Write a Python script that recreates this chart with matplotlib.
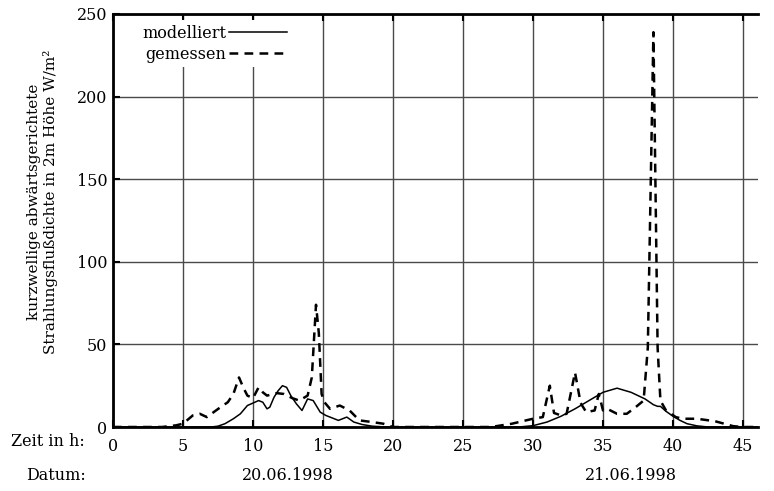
import matplotlib
matplotlib.use("Agg")
import matplotlib.pyplot as plt
import matplotlib.transforms as mtransforms

# modelled shortwave downward flux (solid)
t_mod = [0, 6, 7, 7.5, 8, 8.6, 9.1, 9.6, 10, 10.4, 10.7, 11.0, 11.2, 11.5, 11.8,
         12.1, 12.4, 12.7, 13.1, 13.5, 13.9, 14.3, 14.8, 15.2, 15.5, 16.1, 16.7,
         17.2, 17.8, 18.5, 19.5, 28, 29, 30, 31, 32, 33, 34, 35, 36, 37, 38,
         38.6, 38.9, 39.1, 39.5, 40, 40.5, 41, 41.7, 42.5, 47]
modelliert = [0, 0, 0, 0.5, 2, 5, 8, 13, 14.5, 16, 15, 11, 12, 18, 22,
              25, 24, 19, 14, 10, 17, 16, 9, 7, 6, 4, 6,
              3, 1.5, 0.5, 0, 0, 0, 0.8, 3, 6.5, 11, 16, 21, 23.5, 21, 17,
              13.5, 12.5, 12.5, 9.5, 6.5, 4, 2, 0.7, 0, 0]

# measured (dashed)
t_mes = [0, 3.5, 4.5, 5, 5.7, 6.2, 6.7, 7.6, 8.2, 8.6, 9.0, 9.3, 9.6, 10, 10.4,
         10.7, 11, 11.7, 12.2, 12.8, 13.3, 13.9, 14.2, 14.5, 14.7, 14.9, 15.1,
         15.5, 16.2, 16.9, 17.6, 18.5, 19.3, 20, 27, 28.5, 30, 30.7, 31.2, 31.5,
         32, 32.4, 33, 33.4, 33.8, 34.4, 34.7, 35, 35.3, 36, 36.7, 37.4, 37.9,
         38.2, 38.6, 38.9, 39.1, 39.5, 40.2, 40.7, 41.7, 43, 44.3, 45, 47]
gemessen = [0, 0, 1, 2, 7, 8, 6, 11.5, 15, 20, 30, 24, 19, 17.5, 24,
            21, 19, 20.5, 20, 17.5, 16, 19, 30, 74, 57, 20, 15,
            11, 13, 10, 4, 3, 2, 0, 0, 2, 5, 6, 25, 8.5,
            7, 8, 33, 14.5, 9, 10, 20, 10, 11, 8, 8, 12.5, 16,
            48, 239, 48, 16, 10, 6, 5, 5, 3.5, 0.5, 0, 0]

xticks = [0, 5, 10, 15, 20, 25, 30, 35, 40, 45]
yticks = [0, 50, 100, 150, 200, 250]
datum_pos = [12.5, 37]
datum_lbl = ["20.06.1998", "21.06.1998"]

plt.rcParams['font.family'] = ['DejaVu Serif']
plt.rcParams['font.size'] = 11.5

fig = plt.figure(figsize=(7.74, 4.91), dpi=100)
ax = fig.add_axes([113 / 774, 64 / 491, 645 / 774, 413 / 491])

ax.plot(t_mod, modelliert, color='black', lw=1.1, label='modelliert', zorder=3)
ax.plot(t_mes, gemessen, color='black', lw=1.8, linestyle=(0, (3.5, 2.5)),
        label='gemessen', zorder=3)

ax.set_xlim(0, 46.07)
ax.set_ylim(0, 250)
ax.set_xticks(xticks)
ax.set_yticks(yticks)
ax.grid(True, color='#4a4a4a', lw=1.0, zorder=1)
ax.set_axisbelow(True)

for s in ['left', 'bottom', 'top']:
    ax.spines[s].set_linewidth(2)
ax.spines['right'].set_visible(False)
ax.tick_params(direction='in', length=5, width=1.5, top=True, pad=4)
ax.tick_params(axis='x', pad=8)

ax.set_ylabel("kurzwellige abwärtsgerichtete\nStrahlungsflußdichte in 2m Höhe W/m²",
              fontsize=11)
ax.yaxis.set_label_coords(-0.085, 0.545)

trans = mtransforms.blended_transform_factory(ax.transData, fig.transFigure)
fig.text(85 / 774, 1 - 441 / 491, "Zeit in h:", ha='right', va='center')
fig.text(86 / 774, 1 - 476 / 491, "Datum:", ha='right', va='center')
for p, l in zip(datum_pos, datum_lbl):
    ax.text(p, 1 - 476 / 491, l, transform=trans, ha='center', va='center')

leg = ax.legend(loc='upper left', bbox_to_anchor=(0.035, 0.99), markerfirst=False,
                handlelength=3.6, handletextpad=0.2, labelspacing=0.25,
                frameon=True, fancybox=False, borderaxespad=0.1, borderpad=0.3)
leg.get_frame().set_edgecolor('none')
leg.get_frame().set_facecolor('white')
leg.get_frame().set_alpha(1)
leg.set_zorder(5)

fig.savefig("out.png", dpi=100)
